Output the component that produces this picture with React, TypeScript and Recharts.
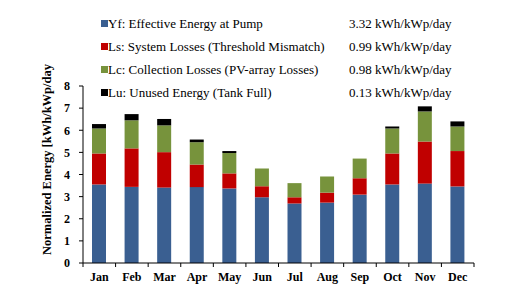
import { BarChart, Bar, XAxis, YAxis } from 'recharts';

// monthly values (kWh/kWp/day)
const months = ['Jan', 'Feb', 'Mar', 'Apr', 'May', 'Jun', 'Jul', 'Aug', 'Sep', 'Oct', 'Nov', 'Dec'];
const effective = [3.55, 3.44, 3.41, 3.43, 3.37, 2.97, 2.69, 2.73, 3.09, 3.55, 3.59, 3.46];
const systemLoss = [1.4, 1.74, 1.6, 1.02, 0.68, 0.5, 0.28, 0.45, 0.74, 1.4, 1.9, 1.6];
const collectionLoss = [1.13, 1.27, 1.21, 1.01, 0.92, 0.8, 0.64, 0.73, 0.89, 1.13, 1.36, 1.11];
const unused = [0.2, 0.28, 0.29, 0.12, 0.09, 0, 0, 0, 0, 0.09, 0.23, 0.23];

const yTicks = [0, 1, 2, 3, 4, 5, 6, 7, 8];

const seriesKeys = ['yf', 'ls', 'lc', 'lu'];
const seriesNames = [
  'Yf: Effective Energy at Pump',
  'Ls: System Losses (Threshold Mismatch)',
  'Lc: Collection Losses (PV-array Losses)',
  'Lu: Unused Energy (Tank Full)',
];
const seriesAverages = ['3.32 kWh/kWp/day', '0.99 kWh/kWp/day', '0.98 kWh/kWp/day', '0.13 kWh/kWp/day'];
const seriesColors = ['#3a5f91', '#c00000', '#77933c', '#000000'];

const data = months.map((month, i) => ({
  month,
  yf: effective[i],
  ls: systemLoss[i],
  lc: collectionLoss[i],
  lu: unused[i],
}));

const WIDTH = 514;
const HEIGHT = 300;
const AXIS_W = 83;
const RIGHT = 40;
const step = (WIDTH - AXIS_W - RIGHT) / months.length;

const font = '"Liberation Serif", "Times New Roman", serif';

function MonthTick(props: any) {
  const { x, y, payload, index } = props;
  const axisY = y - 6;
  return (
    <g>
      <line x1={x - step / 2} y1={axisY} x2={x - step / 2} y2={axisY + 4} stroke="#000" />
      {index === months.length - 1 && (
        <line x1={x + step / 2} y1={axisY} x2={x + step / 2} y2={axisY + 4} stroke="#000" />
      )}
      <text x={x} y={y + 12} textAnchor="middle" fontFamily={font} fontWeight="bold" fontSize={12} fill="#000">
        {payload.value}
      </text>
    </g>
  );
}

function YLabel(props: any) {
  const { viewBox } = props;
  const cx = viewBox.x + 47;
  const cy = viewBox.y + viewBox.height / 2 - 15;
  return (
    <text
      x={cx}
      y={cy}
      transform={`rotate(-90, ${cx}, ${cy})`}
      textAnchor="middle"
      dominantBaseline="central"
      fontFamily={font}
      fontWeight="bold"
      fontSize={12.5}
      fill="#000"
    >
      Normalized Energy [kWh/kWp/day
    </text>
  );
}

export default function App() {
  return (
    <div style={{ position: 'relative', width: WIDTH, height: HEIGHT, background: '#fff', fontFamily: font }}>
      <style>{'body{margin:0}'}</style>
      <BarChart
        width={WIDTH}
        height={HEIGHT}
        data={data}
        margin={{ top: 86, right: RIGHT, bottom: 7, left: 0 }}
        barSize={14}
      >
        <XAxis
          dataKey="month"
          height={30}
          axisLine={{ stroke: '#000' }}
          tickLine={false}
          tickSize={4}
          tickMargin={2}
          tick={<MonthTick />}
          interval={0}
        />
        <YAxis
          width={AXIS_W}
          domain={[0, 8]}
          ticks={yTicks}
          interval={0}
          axisLine={{ stroke: '#000' }}
          tickLine={{ stroke: '#000' }}
          tickSize={4}
          tickMargin={9}
          tick={{ fontFamily: font, fontWeight: 'bold', fontSize: 12, fill: '#000' }}
          label={{ content: <YLabel /> }}
        />
        {seriesKeys.map((key, i) => (
          <Bar key={key} dataKey={key} stackId="a" fill={seriesColors[i]} isAnimationActive={false} />
        ))}
      </BarChart>
      <div style={{ position: 'absolute', left: 101, top: 11.5, fontSize: 13, color: '#000' }}>
        {seriesNames.map((name, i) => (
          <div key={name} style={{ position: 'relative', height: 23, lineHeight: '23px', width: 360 }}>
            <span
              style={{
                position: 'absolute',
                left: 0,
                top: 8,
                width: 7,
                height: 7,
                background: seriesColors[i],
              }}
            />
            <span style={{ position: 'absolute', left: 7, top: 0, whiteSpace: 'nowrap' }}>{name}</span>
            <span style={{ position: 'absolute', left: 248, top: 0, whiteSpace: 'nowrap' }}>{seriesAverages[i]}</span>
          </div>
        ))}
      </div>
    </div>
  );
}
